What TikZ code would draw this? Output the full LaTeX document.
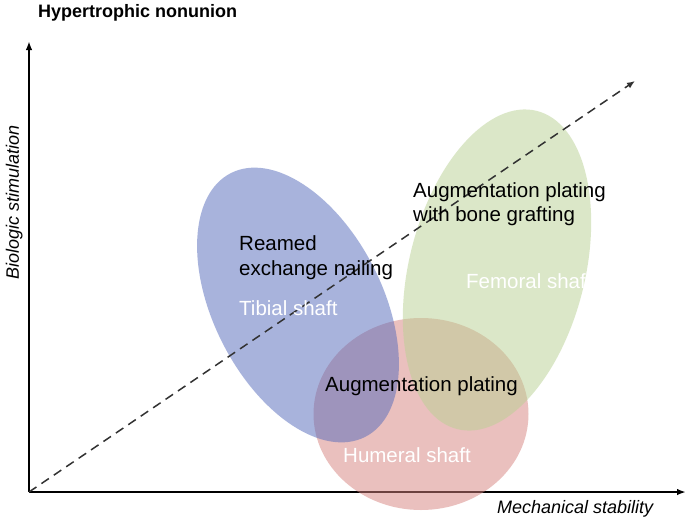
\documentclass[tikz,border=0pt]{standalone}
\usepackage{fontspec}
\setmainfont{Liberation Sans}
\usetikzlibrary{arrows.meta}
\definecolor{blueE}{RGB}{83,105,187}
\definecolor{greenE}{RGB}{185,209,147}
\definecolor{redE}{RGB}{215,131,127}
\definecolor{dashc}{RGB}{50,50,50}
\tikzset{
  axisline/.style={line width=1.8pt, -{Latex[length=9pt,width=6.5pt]}},
  trendline/.style={line width=1.5pt, dashc, dash pattern=on 9pt off 6pt, -{Latex[length=8pt,width=6.5pt]}},
  blob/.style={draw=none, fill opacity=0.5},
  lbl/.style={font=\fontsize{20.5}{24}\selectfont, anchor=base west, inner sep=0pt},
  wlbl/.style={lbl, text=white},
  axlbl/.style={font=\fontsize{18}{21}\selectfont\itshape, inner sep=0pt},
}
\begin{document}
\begin{tikzpicture}[x=1pt,y=-1pt]
\useasboundingbox (0,0) rectangle (689,520);
\fill[white] (0,0) rectangle (689,520);
\coordinate (O) at (29,492);
\coordinate (Ytop) at (29,41);
\coordinate (Xend) at (686,492);
\coordinate (Dend) at (635,81);
% axes
\draw[axisline] (O) -- (Ytop);
\draw[axisline] (O) -- (Xend);
% regions
\fill[blob, redE] (421,414) ellipse [x radius=107.5, y radius=96];
\fill[blob, blueE, rotate around={27:(298,305)}] (298,305) ellipse [x radius=84.5, y radius=148];
\fill[blob, greenE, rotate around={-14:(497,270)}] (497,270) ellipse [x radius=88, y radius=164];
% trend
\draw[trendline] (O) -- (Dend);
% texts
\node[font=\fontsize{18}{21}\selectfont\bfseries, anchor=base west, inner sep=0pt] (title) at (38,17) {Hypertrophic nonunion};
\node[axlbl, rotate=90, anchor=base] (ylab) at (19,202) {Biologic stimulation};
\node[axlbl, anchor=base west] (xlab) at (497,513) {Mechanical stability};
\node[lbl] (rea1) at (239,250) {Reamed};
\node[lbl] (rea2) at (239,275) {exchange nailing};
\node[wlbl] (tib) at (239,315) {Tibial shaft};
\node[lbl] (aug1) at (413,197) {Augmentation plating};
\node[lbl] (aug2) at (413,221) {with bone grafting};
\node[wlbl] (fem) at (466,288) {Femoral shaft};
\node[lbl] (augp) at (325,391) {Augmentation plating};
\node[wlbl] (hum) at (343,462) {Humeral shaft};
\end{tikzpicture}
\end{document}
